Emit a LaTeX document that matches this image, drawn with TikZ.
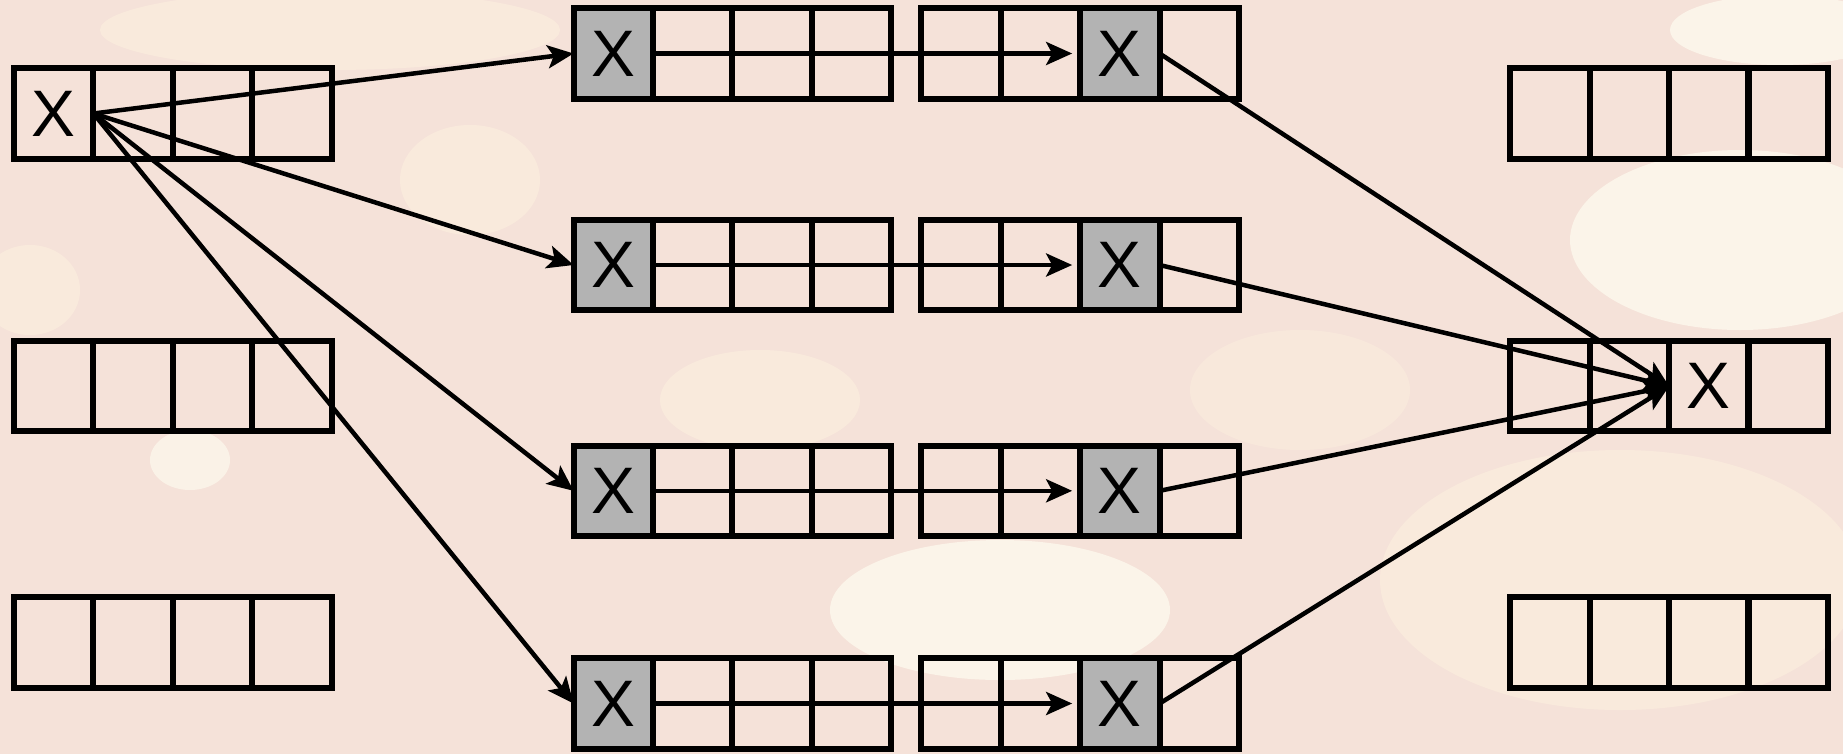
\documentclass[tikz,border=0pt]{standalone}
\usepackage{fontspec}
\setmainfont{Liberation Sans}
\usetikzlibrary{arrows.meta}
\definecolor{paper}{RGB}{245,226,217}
\definecolor{cream}{RGB}{251,237,221}
\definecolor{pale}{RGB}{253,249,237}
\definecolor{slotgray}{RGB}{179,179,179}

\begin{document}
\begin{tikzpicture}[x=0.01cm,y=-0.01cm,>={Stealth[length=0.26cm,width=0.23cm,inset=0.06cm]},
  cell/.style={draw,line width=0.06cm,minimum width=0.7935cm,minimum height=0.905cm,
    inner sep=0pt,outer sep=0pt,font=\fontsize{18.7}{20}\selectfont},
  hit/.style={cell,fill=slotgray},
  link/.style={->,line width=0.045cm}]
\useasboundingbox (0,0) rectangle (1843,754);
% textured paper (rough)
\begin{scope}
\clip (0,0) rectangle (1843,754);
\fill[paper] (0,0) rectangle (1843,754);
\fill[cream,opacity=0.8] (330,30) ellipse (230 and 40);
\fill[cream,opacity=0.8] (470,180) ellipse (70 and 55);
\fill[cream,opacity=0.8] (30,290) ellipse (50 and 45);
\fill[pale,opacity=0.7] (190,460) ellipse (40 and 30);
\fill[cream,opacity=0.8] (760,400) ellipse (100 and 50);
\fill[pale,opacity=0.8] (1000,610) ellipse (170 and 70);
\fill[pale,opacity=0.8] (1740,240) ellipse (170 and 90);
\fill[pale,opacity=0.8] (1780,30) ellipse (110 and 35);
\fill[cream,opacity=0.8] (1620,580) ellipse (240 and 130);
\fill[cream,opacity=0.6] (1300,390) ellipse (110 and 60);
\end{scope}
% left and right slot rows
\foreach \r/\y in {1/113.5,2/386.2,3/642.4}{
  \foreach \c in {1,...,4}{
    \node[cell] (L\r-\c) at ({14.1+(\c-0.5)*79.35},\y) {};
    \node[cell] (R\r-\c) at ({1510.4+(\c-0.5)*79.35},\y) {};
  }
}
\node[font=\fontsize{18.7}{20}\selectfont] (xin) at (L1-1) {X};
\node[font=\fontsize{18.7}{20}\selectfont] (xout) at (R2-3) {X};
% middle rows, two blocks each
\foreach \r/\y in {1/53.5,2/265.0,3/490.8,4/703.5}{
  \foreach \c/\s/\t in {1/hit/X,2/cell/{},3/cell/{},4/cell/{}}
    \node[\s] (A\r-\c) at ({573.6+(\c-0.5)*79.35},\y) {\t};
  \foreach \c/\s/\t in {1/cell/{},2/cell/{},3/hit/X,4/cell/{}}
    \node[\s] (B\r-\c) at ({921.5+(\c-0.5)*79.35},\y) {\t};
}
% fan out, across, fan in
\foreach \r in {1,...,4}{
  \draw[link] (L1-1.east) -- (A\r-1.west);
  \draw[link,shorten >=0.08cm] (A\r-1.east) -- (B\r-3.west);
  \draw[link] (B\r-3.east) -- (R2-3.west);
}
\end{tikzpicture}
\end{document}
